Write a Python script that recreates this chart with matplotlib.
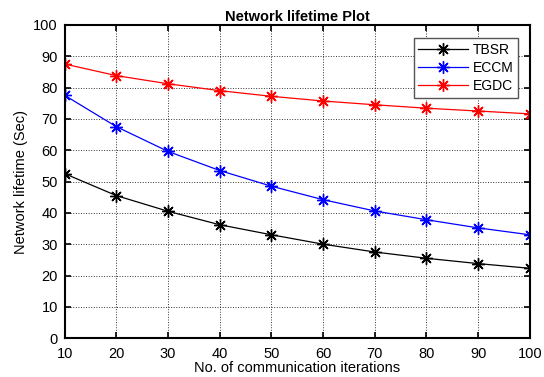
import matplotlib
matplotlib.use("Agg")
import matplotlib.pyplot as plt

iterations = [10, 20, 30, 40, 50, 60, 70, 80, 90, 100]
tbsr = [52.5, 45.5, 40.5, 36.2, 33.0, 30.0, 27.5, 25.5, 23.8, 22.3]
eccm = [77.5, 67.5, 59.6, 53.5, 48.5, 44.2, 40.6, 37.8, 35.2, 33.0]
egdc = [87.5, 83.8, 81.2, 79.0, 77.2, 75.7, 74.5, 73.4, 72.5, 71.6]

plt.rcParams['font.family'] = ['Liberation Sans', 'DejaVu Sans']

def main():
    fig = plt.figure(figsize=(5.44, 3.77), dpi=100)
    ax = fig.add_axes([0.119, 0.103, 0.855, 0.831])
    star = (8, 2, 0)
    ax.plot(iterations, tbsr, color="black", marker=star, markersize=9, markeredgewidth=1.0, linewidth=0.9, label="TBSR")
    ax.plot(iterations, eccm, color="blue", marker=star, markersize=9, markeredgewidth=1.0, linewidth=0.9, label="ECCM")
    ax.plot(iterations, egdc, color="red", marker=star, markersize=9, markeredgewidth=1.0, linewidth=0.9, label="EGDC")
    ax.set_xlim(10, 100)
    ax.set_ylim(0, 100)
    ax.set_xticks(iterations)
    ax.set_yticks(range(0, 101, 10))
    ax.tick_params(direction="in", top=True, right=True, labelsize=10.5, width=1.2, length=4)
    ax.tick_params(axis="x", pad=6)
    ax.tick_params(axis="y", pad=5)
    ax.grid(True, linestyle=":", color="black", linewidth=0.7, alpha=0.8)
    ax.set_xlabel("No. of communication iterations", fontsize=10.5, labelpad=0)
    ax.set_ylabel("Network lifetime (Sec)", fontsize=10.5)
    ax.set_title("Network lifetime Plot", fontsize=10.5, fontweight="bold", pad=3)
    leg = ax.legend(loc="upper right", fontsize=10, fancybox=False, framealpha=1,
                    edgecolor="#555555", bbox_to_anchor=(0.99, 0.98), handlelength=3.6,
                    borderpad=0.35, labelspacing=0.3, handletextpad=0.3)
    leg.get_frame().set_linewidth(1.0)
    for s in ax.spines.values():
        s.set_linewidth(1.5)
    fig.savefig("out.png", dpi=100)

if __name__ == "__main__":
    main()
